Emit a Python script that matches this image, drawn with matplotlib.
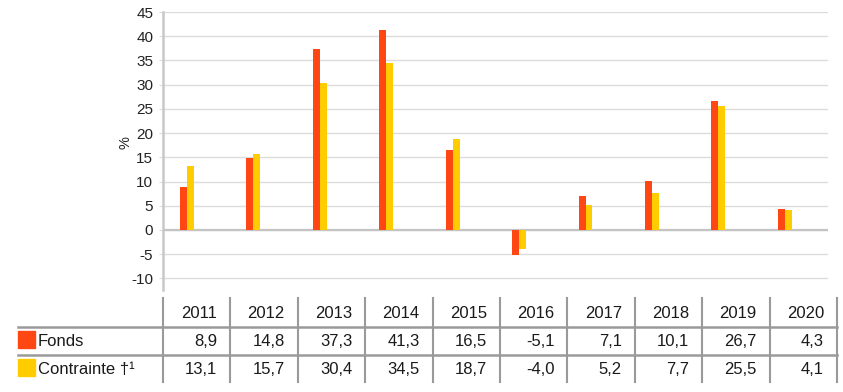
import matplotlib
matplotlib.use("Agg")
import matplotlib.pyplot as plt
from matplotlib.lines import Line2D
from matplotlib.patches import Rectangle
import numpy as np

plt.rcParams['font.family'] = ['Liberation Sans', 'DejaVu Sans']

# données
annees = ["2011", "2012", "2013", "2014", "2015", "2016", "2017", "2018", "2019", "2020"]
fonds = [8.9, 14.8, 37.3, 41.3, 16.5, -5.1, 7.1, 10.1, 26.7, 4.3]
contrainte = [13.1, 15.7, 30.4, 34.5, 18.7, -4.0, 5.2, 7.7, 25.5, 4.1]
series = ["Fonds", "Contrainte \u2020\u00b9"]
couleurs = ["#FF4713", "#FFCC00"]
yticks = [-10, -5, 0, 5, 10, 15, 20, 25, 30, 35, 40, 45]

W, H = 843, 392
fig = plt.figure(figsize=(W / 100, H / 100), dpi=100)

# graphique en barres
ax = fig.add_axes([163 / W, 1 - 290 / H, 665 / W, 278 / H])
x = np.arange(len(annees))
bw = 0.105
ax.bar(x - bw / 2, fonds, bw, color=couleurs[0], zorder=3)
ax.bar(x + bw / 2, contrainte, bw, color=couleurs[1], zorder=3)
ax.set_xlim(-0.36, 9.65)
ax.set_ylim(-12.4, 45)
ax.set_yticks(yticks)
ax.set_yticklabels([str(v) for v in yticks], fontsize=11, color="#222222")
ax.set_xticks([])
ax.grid(axis="y", color="#dcdcdc", lw=1, zorder=0)
ax.axhline(0, color="#c4c4c4", lw=1.6, zorder=2)
for s in ["top", "right", "bottom"]:
    ax.spines[s].set_visible(False)
ax.spines["left"].set_color("#c8c8c8")
ax.spines["left"].set_linewidth(1.8)
ax.tick_params(axis="y", length=3, color="#dcdcdc", pad=4)
ax.set_ylabel("%", fontsize=10.5, color="#222222")
ax.yaxis.set_label_coords(-0.046, 0.529)

# tableau (coordonnées en pixels)
tb = fig.add_axes([0, 0, 1, 1])
tb.set_xlim(0, W)
tb.set_ylim(H, 0)
tb.axis("off")

x0, x1 = 163, 837
bords = np.linspace(x0, x1, len(annees) + 1)
for b in bords:
    tb.add_line(Line2D([b, b], [298, 382], color="#9a9a9a", lw=1.5))
for yl in [327, 355]:
    tb.add_line(Line2D([18, x1], [yl, yl], color="#9a9a9a", lw=1.8))

lignes_y = [313, 341.5, 369.5]
fs = 12
for i, a in enumerate(annees):
    xr = bords[i + 1] - 13
    tb.text(xr, lignes_y[0], a, ha="right", va="center", fontsize=fs, color="#1a1a1a")
    tb.text(xr, lignes_y[1], f"{fonds[i]:.1f}".replace(".", ","), ha="right", va="center",
            fontsize=fs, color="#1a1a1a")
    tb.text(xr, lignes_y[2], f"{contrainte[i]:.1f}".replace(".", ","), ha="right", va="center",
            fontsize=fs, color="#1a1a1a")

for j, (nom, c) in enumerate(zip(series, couleurs)):
    yc = lignes_y[j + 1]
    tb.add_patch(Rectangle((18, yc - 11), 17, 17, color=c))
    tb.text(38, yc, nom, ha="left", va="center", fontsize=fs, color="#1a1a1a")

fig.savefig("out.png", dpi=100)
